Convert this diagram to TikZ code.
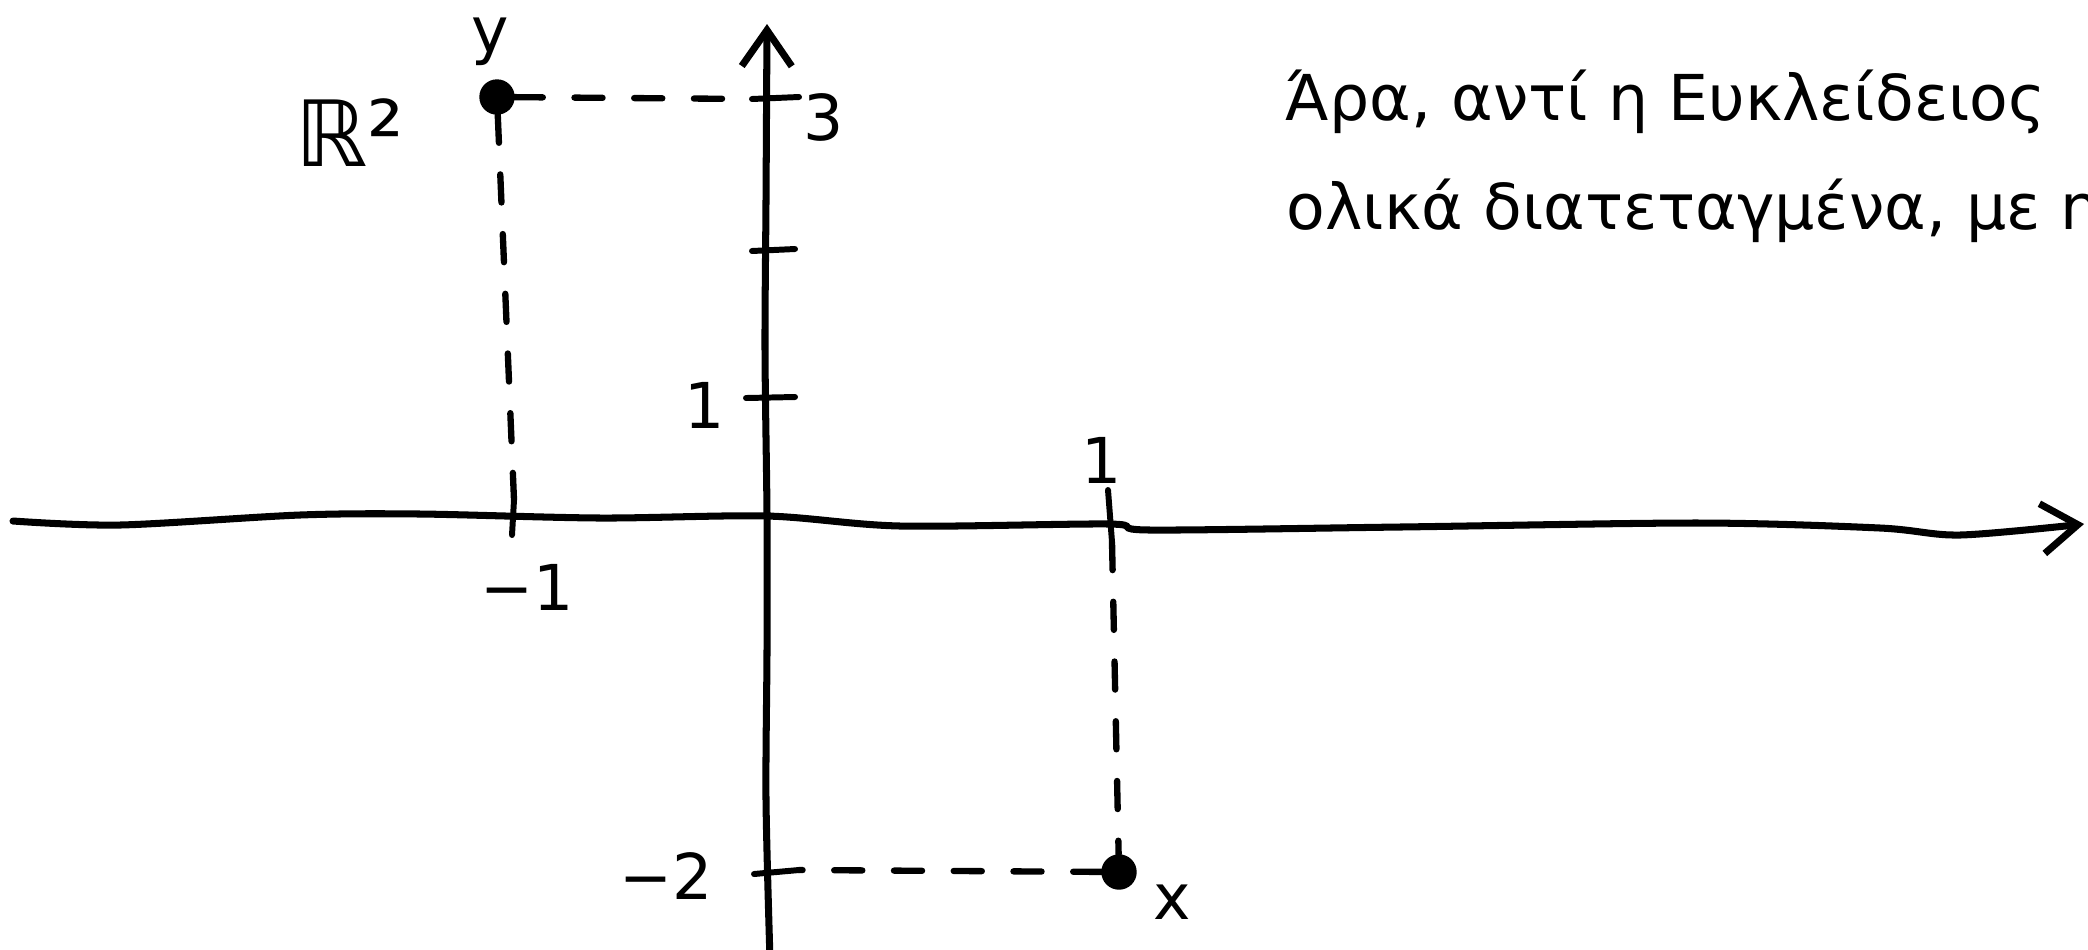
\documentclass[tikz,border=0pt]{standalone}
\usepackage{fontspec}
\setmainfont{DejaVu Sans}
\usetikzlibrary{arrows.meta, positioning, calc}

\begin{document}
\begin{tikzpicture}[
    axis/.style={line width=2pt, line cap=round},
    tick/.style={line width=1.7pt, line cap=round},
    guide/.style={line width=1.8pt, line cap=round, dash pattern=on 8pt off 9pt},
    dot/.style={draw, fill, circle, minimum size=0.34cm, inner sep=0},
    lbl/.style={font=\fontsize{18}{20}\selectfont, inner sep=0},
    note/.style={font=\fontsize{18}{20}\selectfont, anchor=base west, inner sep=0},
    >={Straight Barb[length=3.6mm, width=5mm]}
]
\useasboundingbox (0,0) rectangle (20.88,-9.49);
\clip (0,0) rectangle (20.88,-9.49);
% axes
\draw[axis, ->] plot[smooth] coordinates {(0.13,-5.21) (1.2,-5.25) (3.0,-5.15) (4.2,-5.14)
  (6.0,-5.18) (7.67,-5.16) (9.0,-5.26) (11.09,-5.24) (11.5,-5.30) (14.0,-5.27)
  (17.0,-5.23) (18.8,-5.28) (19.6,-5.35) (20.84,-5.24)};
\draw[axis, ->] plot[smooth] coordinates {(7.70,-9.60) (7.66,-8.0) (7.67,-6.5)
  (7.67,-5.16) (7.65,-3.5) (7.66,-2.0) (7.67,-0.24)};
% ticks
\coordinate (t3l) at (7.52,-0.99);  \coordinate (t3r) at (7.99,-0.97);
\coordinate (t2l) at (7.52,-2.51);  \coordinate (t2r) at (7.95,-2.49);
\coordinate (t1l) at (7.46,-3.98);  \coordinate (t1r) at (7.95,-3.97);
\coordinate (tm2l) at (7.54,-8.74); \coordinate (tm2r) at (7.99,-8.70);
\coordinate (sm1t) at (5.14,-5.00); \coordinate (sm1b) at (5.12,-5.35);
\coordinate (s1t) at (11.08,-4.90); \coordinate (s1b) at (11.12,-5.42);
\foreach \a/\b in {t3l/t3r, t2l/t2r, t1l/t1r, tm2l/tm2r, sm1t/sm1b, s1t/s1b}
  \draw[tick] (\a) -- (\b);
% the two points
\node[dot] (ypt) at (4.97,-0.97) {};
\node[dot] (xpt) at (11.19,-8.72) {};
\draw[guide] (ypt) -- (t3l);
\draw[guide] (ypt) -- (sm1t);
\draw[guide] (s1b) -- (xpt);
\draw[guide] (xpt) -- (tm2r);
% labels
\node[lbl] (ylab) at (4.90,-0.42) {y};
\node[lbl] (xlab) at (11.72,-9.02) {x};
\node[lbl, font=\fontsize{26}{28}\selectfont] (rr) at (3.50,-1.33) {ℝ²};
\node[lbl] (l3) at (8.24,-1.17) {3};
\node[lbl] (l1) at (7.05,-4.05) {1};
\node[lbl] (lm1) at (5.27,-5.87) {−1};
\node[lbl] (lx1) at (11.02,-4.60) {1};
\node[lbl] (lm2) at (6.66,-8.76) {−2};
% text on the right
\node[note] (line1) at (12.85,-1.20) {Άρα, αντί η Ευκλείδειος};
\node[note] (line2) at (12.86,-2.29) {ολικά διατεταγμένα, με η};
\end{tikzpicture}
\end{document}
